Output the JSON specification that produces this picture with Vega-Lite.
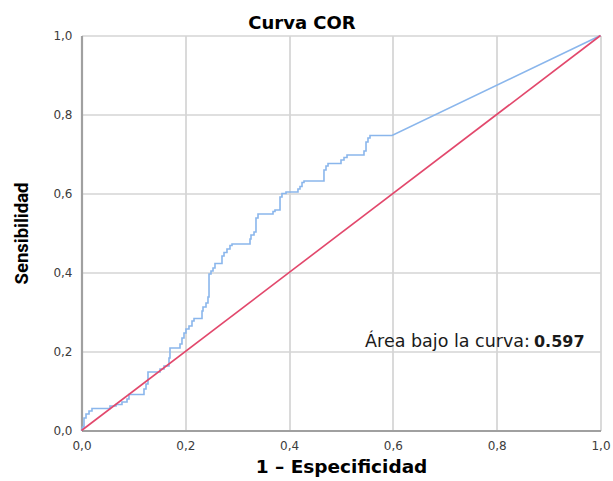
{
"$schema":"https://vega.github.io/schema/vega-lite/v6.json",
"width":519,"height":395,
"autosize":{"type":"none"},
"padding":{"left":81.5,"top":35.5,"right":12,"bottom":50},
"background":"white",
"title":{"text":"Curva COR","font":"DejaVu Sans","fontSize":18,"fontWeight":"bold","color":"#000000","anchor":"middle","frame":"group","dx":-39,"baseline":"alphabetic","offset":-17},
"datasets":{
"roc":[
{"i":0,"fpr":0,"tpr":0},{"i":1,"fpr":0.0019,"tpr":0.0089},{"i":2,"fpr":0.0048,"tpr":0.0089},{"i":3,"fpr":0.0048,"tpr":0.0316},
{"i":4,"fpr":0.0087,"tpr":0.0316},{"i":5,"fpr":0.0087,"tpr":0.0418},{"i":6,"fpr":0.0145,"tpr":0.0418},{"i":7,"fpr":0.0145,"tpr":0.0494},
{"i":8,"fpr":0.0202,"tpr":0.0494},{"i":9,"fpr":0.0202,"tpr":0.0557},{"i":10,"fpr":0.0549,"tpr":0.0557},{"i":11,"fpr":0.0549,"tpr":0.0620},
{"i":12,"fpr":0.0665,"tpr":0.0620},{"i":13,"fpr":0.0665,"tpr":0.0658},{"i":14,"fpr":0.0780,"tpr":0.0658},{"i":15,"fpr":0.0780,"tpr":0.0722},
{"i":16,"fpr":0.0877,"tpr":0.0722},{"i":17,"fpr":0.0877,"tpr":0.0797},{"i":18,"fpr":0.0915,"tpr":0.0797},{"i":19,"fpr":0.0915,"tpr":0.0911},
{"i":20,"fpr":0.1204,"tpr":0.0911},{"i":21,"fpr":0.1204,"tpr":0.1051},{"i":22,"fpr":0.1243,"tpr":0.1051},{"i":23,"fpr":0.1243,"tpr":0.1177},
{"i":24,"fpr":0.1281,"tpr":0.1177},{"i":25,"fpr":0.1281,"tpr":0.1481},{"i":26,"fpr":0.1513,"tpr":0.1481},{"i":27,"fpr":0.1513,"tpr":0.1557},
{"i":28,"fpr":0.1590,"tpr":0.1557},{"i":29,"fpr":0.1590,"tpr":0.1633},{"i":30,"fpr":0.1686,"tpr":0.1633},{"i":31,"fpr":0.1686,"tpr":0.1835},
{"i":32,"fpr":0.1705,"tpr":0.1835},{"i":33,"fpr":0.1705,"tpr":0.2089},{"i":34,"fpr":0.1898,"tpr":0.2089},{"i":35,"fpr":0.1898,"tpr":0.2190},
{"i":36,"fpr":0.1936,"tpr":0.2190},{"i":37,"fpr":0.1936,"tpr":0.2342},{"i":38,"fpr":0.1975,"tpr":0.2342},{"i":39,"fpr":0.1975,"tpr":0.2468},
{"i":40,"fpr":0.2013,"tpr":0.2468},{"i":41,"fpr":0.2013,"tpr":0.2570},{"i":42,"fpr":0.2071,"tpr":0.2570},{"i":43,"fpr":0.2071,"tpr":0.2646},
{"i":44,"fpr":0.2129,"tpr":0.2646},{"i":45,"fpr":0.2129,"tpr":0.2772},{"i":46,"fpr":0.2168,"tpr":0.2772},{"i":47,"fpr":0.2168,"tpr":0.2835},
{"i":48,"fpr":0.2322,"tpr":0.2835},{"i":49,"fpr":0.2322,"tpr":0.3025},{"i":50,"fpr":0.2341,"tpr":0.3025},{"i":51,"fpr":0.2341,"tpr":0.3127},
{"i":52,"fpr":0.2399,"tpr":0.3127},{"i":53,"fpr":0.2399,"tpr":0.3228},{"i":54,"fpr":0.2437,"tpr":0.3228},{"i":55,"fpr":0.2437,"tpr":0.3380},
{"i":56,"fpr":0.2457,"tpr":0.3380},{"i":57,"fpr":0.2457,"tpr":0.3962},{"i":58,"fpr":0.2495,"tpr":0.3962},{"i":59,"fpr":0.2495,"tpr":0.4038},
{"i":60,"fpr":0.2534,"tpr":0.4038},{"i":61,"fpr":0.2534,"tpr":0.4114},{"i":62,"fpr":0.2572,"tpr":0.4114},{"i":63,"fpr":0.2572,"tpr":0.4228},
{"i":64,"fpr":0.2707,"tpr":0.4228},{"i":65,"fpr":0.2707,"tpr":0.4418},{"i":66,"fpr":0.2746,"tpr":0.4418},{"i":67,"fpr":0.2746,"tpr":0.4506},
{"i":68,"fpr":0.2803,"tpr":0.4506},{"i":69,"fpr":0.2803,"tpr":0.4595},{"i":70,"fpr":0.2861,"tpr":0.4595},{"i":71,"fpr":0.2861,"tpr":0.4684},
{"i":72,"fpr":0.2900,"tpr":0.4684},{"i":73,"fpr":0.2900,"tpr":0.4722},{"i":74,"fpr":0.3247,"tpr":0.4722},{"i":75,"fpr":0.3247,"tpr":0.4848},
{"i":76,"fpr":0.3266,"tpr":0.4848},{"i":77,"fpr":0.3266,"tpr":0.4949},{"i":78,"fpr":0.3324,"tpr":0.4949},{"i":79,"fpr":0.3324,"tpr":0.5025},
{"i":80,"fpr":0.3362,"tpr":0.5025},{"i":81,"fpr":0.3362,"tpr":0.5380},{"i":82,"fpr":0.3401,"tpr":0.5380},{"i":83,"fpr":0.3401,"tpr":0.5481},
{"i":84,"fpr":0.3690,"tpr":0.5481},{"i":85,"fpr":0.3690,"tpr":0.5544},{"i":86,"fpr":0.3728,"tpr":0.5544},{"i":87,"fpr":0.3728,"tpr":0.5582},
{"i":88,"fpr":0.3825,"tpr":0.5582},{"i":89,"fpr":0.3825,"tpr":0.5911},{"i":90,"fpr":0.3863,"tpr":0.5911},{"i":91,"fpr":0.3863,"tpr":0.6000},
{"i":92,"fpr":0.3940,"tpr":0.6000},{"i":93,"fpr":0.3940,"tpr":0.6038},{"i":94,"fpr":0.4171,"tpr":0.6038},{"i":95,"fpr":0.4171,"tpr":0.6114},
{"i":96,"fpr":0.4210,"tpr":0.6114},{"i":97,"fpr":0.4210,"tpr":0.6177},{"i":98,"fpr":0.4249,"tpr":0.6177},{"i":99,"fpr":0.4249,"tpr":0.6278},
{"i":100,"fpr":0.4287,"tpr":0.6278},{"i":101,"fpr":0.4287,"tpr":0.6316},{"i":102,"fpr":0.4672,"tpr":0.6316},{"i":103,"fpr":0.4672,"tpr":0.6595},
{"i":104,"fpr":0.4711,"tpr":0.6595},{"i":105,"fpr":0.4711,"tpr":0.6696},{"i":106,"fpr":0.4750,"tpr":0.6696},{"i":107,"fpr":0.4750,"tpr":0.6759},
{"i":108,"fpr":0.5000,"tpr":0.6759},{"i":109,"fpr":0.5000,"tpr":0.6848},{"i":110,"fpr":0.5058,"tpr":0.6848},{"i":111,"fpr":0.5058,"tpr":0.6911},
{"i":112,"fpr":0.5116,"tpr":0.6911},{"i":113,"fpr":0.5116,"tpr":0.6975},{"i":114,"fpr":0.5443,"tpr":0.6975},{"i":115,"fpr":0.5443,"tpr":0.7076},
{"i":116,"fpr":0.5482,"tpr":0.7076},{"i":117,"fpr":0.5482,"tpr":0.7304},{"i":118,"fpr":0.5520,"tpr":0.7304},{"i":119,"fpr":0.5520,"tpr":0.7405},
{"i":120,"fpr":0.5559,"tpr":0.7405},{"i":121,"fpr":0.5559,"tpr":0.7468},{"i":122,"fpr":0.5983,"tpr":0.7468},{"i":123,"fpr":1,"tpr":1}
],
"diag":[{"fpr":0,"tpr":0},{"fpr":1,"tpr":1}],
"note":[{"fpr":0.866,"tpr":0.2106,"label":"Área bajo la curva:","auc":"0.597"}]
},
"encoding":{
"x":{"field":"fpr","type":"quantitative","scale":{"domain":[0,1],"nice":false,"zero":true},
"axis":{"values":[0,0.2,0.4,0.6,0.8,1],"title":"1 – Especificidad","labelExpr":"replace(format(datum.value, '.1f'), '.', ',')","labelFlush":false,"labelOverlap":false,"labelPadding":9.5,"titlePadding":6,"titleFont":"DejaVu Sans","titleFontSize":18.5,"titleFontWeight":"bold"}},
"y":{"field":"tpr","type":"quantitative","scale":{"domain":[0,1],"nice":false,"zero":true},
"axis":{"values":[0,0.2,0.4,0.6,0.8,1],"title":"Sensibilidad","labelExpr":"replace(format(datum.value, '.1f'), '.', ',')","labelFlush":false,"labelOverlap":false,"labelPadding":9.5,"titlePadding":21,"titleFont":"Roboto","titleFontSize":18.5,"titleFontWeight":"bold"}}
},
"layer":[
{"data":{"name":"roc"},"mark":{"type":"line","color":"#8ab6ec","strokeWidth":1.6},"encoding":{"order":{"field":"i","type":"quantitative"}}},
{"data":{"name":"diag"},"mark":{"type":"line","color":"#e2486c","strokeWidth":1.6},"encoding":{}},
{"data":{"name":"note"},"mark":{"type":"text","align":"right","baseline":"alphabetic","dx":-1,"font":"DejaVu Sans","fontSize":17.5,"color":"#1a1a1a"},"encoding":{"text":{"field":"label"}}},
{"data":{"name":"note"},"mark":{"type":"text","align":"left","baseline":"alphabetic","dx":3,"font":"DejaVu Sans","fontSize":16,"fontWeight":"bold","color":"#1a1a1a"},"encoding":{"text":{"field":"auc"}}}
],
"config":{
"view":{"stroke":null},
"axis":{"grid":true,"gridColor":"#d4d4d4","gridWidth":1.7,"domainColor":"#a0a0a0","domainWidth":2.2,"ticks":false,"tickSize":0,"labelFont":"DejaVu Sans","labelFontSize":12,"labelColor":"#3c3c3c","titleColor":"#000000"}
}
}
